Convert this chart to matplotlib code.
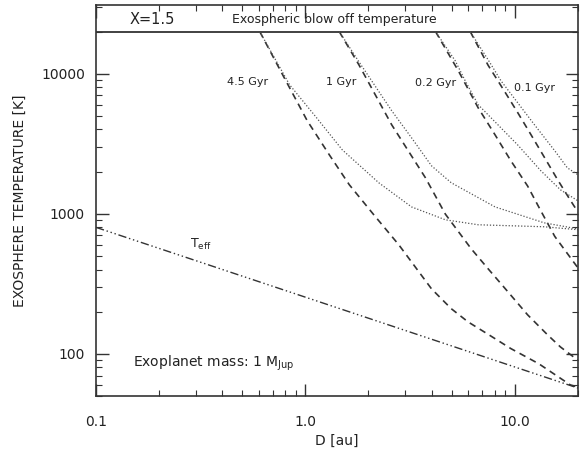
import matplotlib
matplotlib.use("Agg")
import matplotlib.pyplot as plt
from matplotlib.ticker import FixedLocator, LogLocator, NullFormatter

# values
d_teff = [0.1, 20.0]
t_teff = [800, 57]

t_blowoff = 20000

ages = ['4.5 Gyr', '1 Gyr', '0.2 Gyr', '0.1 Gyr']

# dashed curves
d_dash_45 = [0.605, 0.778, 1.02, 1.30, 1.62, 2.12, 2.79, 4.0, 4.97, 5.98, 7.5, 9.57, 13.0, 18.4, 20.0]
t_dash_45 = [20000, 9840, 4616, 2637, 1611, 984, 601, 291, 210, 169, 137, 109, 85, 60, 58]
d_dash_1 = [1.45, 1.80, 2.58, 3.74, 4.66, 6.19, 7.45, 9.27, 11.5, 14.3, 16.5, 20.0]
t_dash_1 = [20000, 11580, 4325, 1808, 993, 562, 405, 277, 190, 137, 112, 90]
d_dash_02 = [4.18, 5.37, 6.68, 8.04, 9.57, 11.5, 13.3, 15.5, 20.0]
t_dash_02 = [20000, 10500, 5710, 3665, 2390, 1580, 1050, 690, 411]
d_dash_01 = [6.12, 7.45, 8.97, 10.3, 11.9, 13.9, 16.0, 18.4, 20.0]
t_dash_01 = [20000, 11500, 7400, 5300, 3700, 2500, 1750, 1250, 1030]

# dotted curves
d_dot_45 = [0.605, 0.84, 1.13, 1.50, 2.24, 3.21, 4.66, 6.68, 13.8, 20.0]
t_dot_45 = [20000, 8340, 4850, 2860, 1665, 1120, 906, 835, 808, 770]
d_dot_1 = [1.45, 1.80, 2.58, 3.21, 4.0, 4.97, 8.04, 13.8, 20.0]
t_dot_1 = [20000, 12180, 5450, 3490, 2200, 1665, 1120, 862, 780]
d_dot_02 = [4.18, 5.19, 5.79, 6.68, 8.3, 10.3, 13.3, 16.5, 20.0]
t_dot_02 = [20000, 12380, 8910, 6010, 4320, 3110, 2030, 1484, 1238]
d_dot_01 = [6.12, 7.6, 8.58, 12.4, 15.5, 17.8, 20.0]
t_dot_01 = [20000, 12000, 8910, 4325, 2820, 2130, 1900]

# label positions (D, T) for the age labels
age_label_d = [0.53, 1.48, 4.18, 12.4]
age_label_t = [8770, 8770, 8600, 7900]

col = '#333333'
txt = '#222222'
plt.rcParams['font.family'] = 'DejaVu Sans'

fig = plt.figure(figsize=(5.82, 4.5), dpi=100)
ax = fig.add_axes([0.165, 0.12, 0.828, 0.869])
ax.set_xscale('log')
ax.set_yscale('log')
ax.set_xlim(0.1, 20)
ax.set_ylim(50, 31000)

ax.axhline(t_blowoff, color=col, lw=1.3)
ax.plot(d_teff, t_teff, color=col, lw=1.0, dashes=(6, 2, 1, 2, 1, 2, 1, 2))

for d, t in [(d_dash_45, t_dash_45), (d_dash_1, t_dash_1),
             (d_dash_02, t_dash_02), (d_dash_01, t_dash_01)]:
    ax.plot(d, t, color=col, lw=1.2, dashes=(4, 3))
for d, t in [(d_dot_45, t_dot_45), (d_dot_1, t_dot_1),
             (d_dot_02, t_dot_02), (d_dot_01, t_dot_01)]:
    ax.plot(d, t, color='#555555', lw=0.9, dashes=(1, 1.5))

for lab, x, y in zip(ages, age_label_d, age_label_t):
    ax.text(x, y, lab, fontsize=8, ha='center', va='center', color=txt)

ax.text(0.186, 24300, 'X=1.5', fontsize=10.5, ha='center', va='center', color=txt)
ax.text(0.445, 24300, 'Exospheric blow off temperature', fontsize=9, ha='left', va='center', color=txt)
ax.text(0.315, 600, r'T$_{\rm eff}$', fontsize=9, ha='center', va='center', color=txt)
ax.text(0.15, 85, r'Exoplanet mass: 1 M$_{\rm Jup}$', fontsize=10, ha='left', va='center', color=txt)

ax.xaxis.set_major_locator(FixedLocator([0.1, 1.0, 10.0]))
ax.set_xticklabels(['0.1', '1.0', '10.0'])
ax.xaxis.set_minor_locator(LogLocator(base=10, subs=range(2, 10)))
ax.xaxis.set_minor_formatter(NullFormatter())
ax.yaxis.set_major_locator(FixedLocator([100, 1000, 10000]))
ax.set_yticklabels(['100', '1000', '10000'])
ax.yaxis.set_minor_locator(LogLocator(base=10, subs=range(2, 10)))
ax.yaxis.set_minor_formatter(NullFormatter())

ax.tick_params(which='both', direction='in', top=True, right=True, color=col, labelsize=10, labelcolor=txt)
ax.tick_params(which='major', length=9, width=1)
ax.tick_params(axis='x', which='major', pad=14)
ax.tick_params(axis='y', which='major', pad=8)
ax.tick_params(which='minor', length=4.5, width=0.8)
for s in ax.spines.values():
    s.set_color(col)
    s.set_linewidth(1.2)

ax.set_xlabel('D [au]', fontsize=10, color=txt, labelpad=3)
ax.set_ylabel('EXOSPHERE TEMPERATURE [K]', fontsize=10, color=txt, labelpad=10)

fig.savefig('out.png', dpi=100)
